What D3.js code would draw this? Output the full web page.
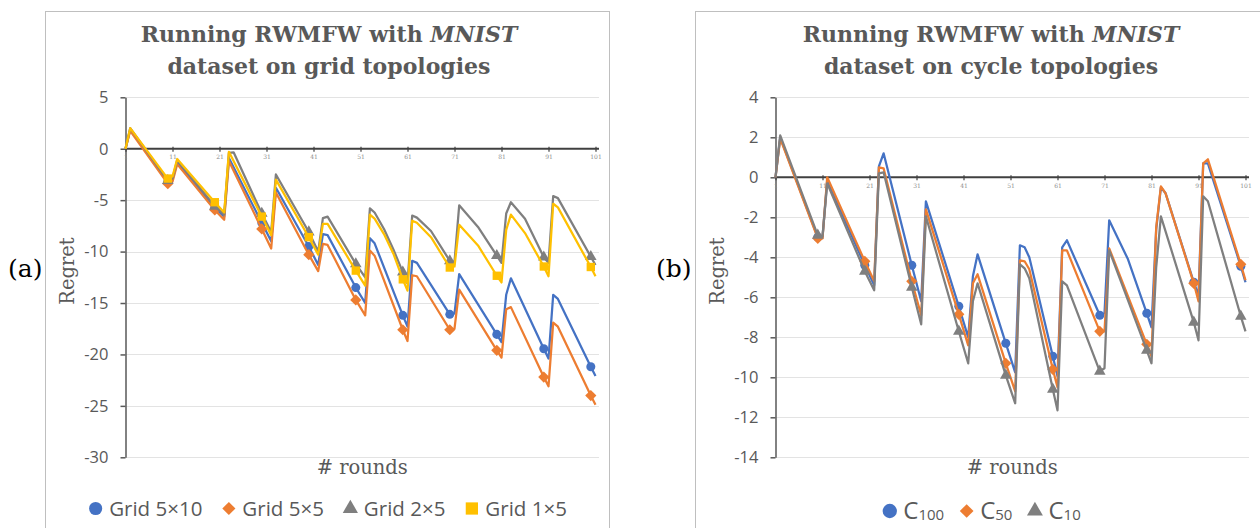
<!DOCTYPE html>
<html>
<head>
<meta charset="UTF-8">
<title>RWMFW regret</title>
<script src="https://d3js.org/d3.v7.min.js"></script>
<style>
  body { margin:0; background:#fff; }
  svg { display:block; }
  .tick-y { font-family:"Open Sans", sans-serif; font-size:16.5px; fill:#595959; }
  .tick-x { font-family:"DejaVu Serif", serif; font-size:6px; fill:#8c8c8c; }
  .title { font-family:"DejaVu Serif", serif; font-weight:bold; font-size:22px; fill:#595959; }
  .axis-title { font-family:"DejaVu Serif", serif; font-size:19.5px; fill:#595959; }
  .panel-tag { font-family:"DejaVu Serif", serif; font-size:25px; fill:#000; }
  .legend { font-family:"Open Sans", sans-serif; font-size:20.5px; fill:#595959; }
</style>
</head>
<body>
<svg width="1260" height="528"></svg>
<script>
// ---- data (round, regret) : vertices ----
const roundTicks = [1, 11, 21, 31, 41, 51, 61, 71, 81, 91, 101];

const gridTicksY = [5, 0, -5, -10, -15, -20, -25, -30];
const cycleTicksY = [4, 2, 0, -2, -4, -6, -8, -10, -12, -14];

const grid5x10 = [[1,0],[2,1.85],[10,-3.2],[11,-3.0],[12,-1.3],[20,-5.75],[22,-6.6],[23,-0.9],[30,-7.2],[32,-9.0],[33,-3.8],[40,-9.5],[42,-11.3],[43,-8.3],[44,-8.4],[50,-13.5],[52,-15.0],[53,-8.7],[54,-9.2],[60,-16.2],[61,-17.3],[62,-10.9],[63,-11.1],[70,-16.1],[71,-16.0],[72,-12.2],[80,-18.05],[81,-18.8],[82,-14.2],[83,-12.6],[90,-19.45],[91,-20.4],[92,-14.2],[93,-14.6],[100,-21.2],[101,-22.1]];
const grid5x5 = [[1,0],[2,1.75],[10,-3.4],[11,-3.2],[12,-1.5],[20,-5.95],[22,-6.9],[23,-1.2],[30,-7.8],[32,-9.7],[33,-4.25],[40,-10.3],[42,-11.9],[43,-9.25],[44,-9.35],[50,-14.7],[52,-16.2],[53,-9.9],[54,-10.4],[60,-17.6],[61,-18.7],[62,-12.3],[63,-12.4],[70,-17.6],[71,-17.5],[72,-13.7],[80,-19.6],[81,-20.3],[82,-15.6],[83,-15.4],[90,-22.2],[91,-23.1],[92,-16.9],[93,-17.3],[100,-24.0],[101,-24.9]];
const grid2x5 = [[1,0],[2,2.0],[10,-3.1],[11,-2.9],[12,-1.1],[20,-5.6],[22,-6.4],[23,-0.4],[24,-0.35],[30,-6.3],[32,-8.1],[33,-2.5],[40,-8.1],[42,-10.0],[43,-6.75],[44,-6.6],[50,-11.2],[52,-12.5],[53,-5.8],[54,-6.2],[56,-7.8],[58,-9.8],[60,-12.0],[61,-13.1],[62,-6.5],[63,-6.7],[66,-8.0],[70,-10.9],[71,-11.0],[72,-5.5],[76,-7.6],[80,-10.4],[81,-11.1],[82,-6.3],[83,-5.2],[86,-6.8],[90,-10.55],[91,-11.1],[92,-4.6],[93,-4.8],[100,-10.5],[101,-11.3]];
const grid1x5 = [[1,0],[2,2.0],[10,-2.9],[11,-2.7],[12,-1.0],[20,-5.2],[22,-6.2],[23,-0.3],[30,-6.6],[32,-8.4],[33,-3.0],[40,-8.6],[42,-10.3],[43,-7.3],[44,-7.3],[50,-11.85],[52,-13.3],[53,-6.4],[54,-6.8],[56,-8.3],[58,-10.2],[60,-12.7],[61,-13.8],[62,-7.0],[63,-7.2],[66,-8.6],[70,-11.55],[71,-11.45],[72,-7.4],[76,-9.4],[80,-12.35],[81,-13.0],[82,-7.9],[83,-6.4],[86,-8.2],[90,-11.45],[91,-12.4],[92,-5.35],[93,-5.7],[100,-11.5],[101,-12.4]];

const c100 = [[1,0],[2,2.0],[10,-3.0],[11,-3.0],[12,-0.15],[20,-4.4],[22,-5.4],[23,0.55],[24,1.2],[30,-4.4],[32,-6.2],[33,-1.2],[40,-6.45],[42,-8.0],[43,-4.95],[44,-3.85],[50,-8.3],[52,-9.75],[53,-3.4],[54,-3.5],[55,-4.0],[60,-8.95],[61,-9.95],[62,-3.5],[63,-3.15],[70,-6.9],[71,-6.8],[72,-2.15],[76,-4.1],[80,-6.8],[81,-7.5],[82,-2.6],[83,-0.5],[84,-0.8],[90,-5.25],[91,-5.9],[92,0.7],[93,0.7],[100,-4.45],[101,-5.25]];
const c50 = [[1,0],[2,1.95],[10,-3.05],[11,-3.05],[12,0.0],[20,-4.2],[22,-5.2],[23,0.5],[24,0.45],[30,-5.2],[32,-6.9],[33,-1.6],[40,-6.85],[42,-8.4],[43,-5.3],[44,-4.85],[50,-9.3],[52,-10.7],[53,-4.15],[54,-4.2],[55,-4.6],[60,-9.6],[61,-10.5],[62,-3.65],[63,-3.65],[70,-7.7],[71,-7.7],[72,-3.55],[80,-8.35],[81,-8.95],[82,-2.5],[83,-0.45],[84,-0.8],[90,-5.3],[91,-6.2],[92,0.7],[93,0.9],[100,-4.35],[101,-5.15]];
const c10 = [[1,0],[2,2.1],[10,-2.9],[11,-2.95],[12,-0.3],[20,-4.7],[22,-5.65],[23,0.2],[24,0.25],[30,-5.5],[32,-7.35],[33,-1.95],[40,-7.7],[42,-9.3],[43,-6.2],[44,-5.3],[50,-9.9],[52,-11.3],[53,-4.35],[54,-4.55],[55,-5.05],[60,-10.6],[61,-11.65],[62,-5.2],[63,-5.4],[70,-9.7],[71,-9.55],[72,-3.65],[80,-8.65],[81,-9.3],[82,-4.5],[83,-1.95],[90,-7.25],[91,-8.15],[92,-0.95],[93,-1.2],[100,-6.95],[101,-7.7]];

const gridNames = ['Grid 5×10', 'Grid 5×5', 'Grid 2×5', 'Grid 1×5'];
const cycleNames = [['C', '100'], ['C', '50'], ['C', '10']];

const colors = { blue:'#4472C4', orange:'#ED7D31', gray:'#7F7F7F', yellow:'#FFC000' };
const diamond = d3.symbolDiamond2 || d3.symbolDiamond;

const svg = d3.select('svg');

function drawPanel(p) {
  const g = svg.append('g');

  // frame of the chart area
  g.append('rect')
    .attr('x', p.box[0] + 0.5).attr('y', 11.5)
    .attr('width', p.box[1] - p.box[0]).attr('height', 600)
    .attr('fill', '#fff').attr('stroke', '#bfbfbf');

  const x = d3.scaleLinear().domain([1, 101]).range(p.xRange);
  const y = d3.scaleLinear().domain(d3.extent(p.yTicks)).range([457.3, 97.3]);
  const xEnd = p.xRange[1] + 3.5;

  // gridlines
  g.append('g').selectAll('line').data(p.yTicks.filter(d => d !== 0)).join('line')
    .attr('x1', x(1)).attr('x2', xEnd)
    .attr('y1', d => Math.round(y(d)) + 0.5).attr('y2', d => Math.round(y(d)) + 0.5)
    .attr('stroke', '#e3e3e3').attr('stroke-width', 1);

  // y axis
  const ya = g.append('g')
    .attr('transform', `translate(${x(1)},0)`)
    .call(d3.axisLeft(y).tickValues(p.yTicks).tickSize(5).tickSizeOuter(0).tickPadding(12).tickFormat(d => String(d)));
  ya.select('.domain').attr('stroke', '#595959').attr('stroke-width', 1.5);
  ya.selectAll('.tick line').attr('stroke', '#595959').attr('stroke-width', 1.5);
  ya.selectAll('.tick text').attr('class', 'tick-y').attr('font-family', null).attr('font-size', null);

  // horizontal axis through zero
  const xa = g.append('g')
    .attr('transform', `translate(0,${y(0)})`)
    .call(d3.axisBottom(x).tickValues(roundTicks).tickSize(3).tickSizeOuter(0).tickPadding(3));
  xa.select('.domain').remove();
  xa.append('line').attr('x1', x(1)).attr('x2', xEnd)
    .attr('stroke', '#404040').attr('stroke-width', 2);
  xa.selectAll('.tick line').attr('y1', -2).attr('stroke', '#404040').attr('stroke-width', 1.2);
  xa.selectAll('.tick text').attr('class', 'tick-x').attr('font-family', null).attr('font-size', null);

  // series
  const line = d3.line().x(d => x(d[0])).y(d => y(d[1]));
  p.series.forEach(s => {
    g.append('path').datum(s.values)
      .attr('d', line)
      .attr('fill', 'none').attr('stroke', s.color)
      .attr('stroke-width', 2.25).attr('stroke-linejoin', 'round');
    g.append('g').selectAll('path').data(s.values.filter(d => d[0] % 10 === 0)).join('path')
      .attr('transform', d => `translate(${x(d[0])},${y(d[1])})`)
      .attr('d', d3.symbol(s.symbol, s.size))
      .attr('fill', s.color);
  });

  // title
  const cx = (p.xRange[0] + xEnd) / 2;
  const t = g.append('text').attr('class', 'title').attr('text-anchor', 'middle');
  const l1 = t.append('tspan').attr('x', p.titleX).attr('y', 42);
  l1.append('tspan').text('Running RWMFW with ');
  l1.append('tspan').attr('font-style', 'italic').text('MNIST');
  t.append('tspan').attr('x', p.titleX).attr('y', 74).text(p.title2);

  // axis titles
  g.append('text').attr('class', 'axis-title').attr('text-anchor', 'middle')
    .attr('x', cx).attr('y', 474).text('# rounds');
  g.append('text').attr('class', 'axis-title').attr('text-anchor', 'middle')
    .attr('transform', `translate(${p.regretX},271) rotate(-90)`).text('Regret');

  // panel tag
  g.append('text').attr('class', 'panel-tag').attr('x', p.tagX).attr('y', 277).text(p.tag);

  // legend
  const lg = g.append('g');
  let lx = 0;
  p.series.forEach((s, i) => {
    lg.append('path').attr('transform', `translate(${lx + 6.5},${p.legendY - 7.5})`)
      .attr('d', d3.symbol(s.symbol, s.legendSize)).attr('fill', s.color);
    const txt = lg.append('text').attr('class', 'legend').attr('x', lx + 20).attr('y', p.legendY);
    if (Array.isArray(s.name)) {
      txt.append('tspan').attr('font-size', 24).text(s.name[0]);
      txt.append('tspan').attr('font-size', 15).attr('dy', 1).text(s.name[1]);
    } else {
      txt.text(s.name);
    }
    lx += 20 + txt.node().getComputedTextLength() + p.legendGap;
  });
  const w = lx - p.legendGap;
  lg.attr('transform', `translate(${p.legendCenter - w / 2},0)`);
}

drawPanel({
  box: [45, 609], xRange: [125.5, 595.5], yTicks: gridTicksY,
  titleX: 329, title2: 'dataset on grid topologies', regretX: 74, tag: '(a)', tagX: 8,
  legendY: 516, legendCenter: 328, legendGap: 20,
  series: [
    { name: gridNames[0], values: grid5x10, color: colors.blue, symbol: d3.symbolCircle, size: 64, legendSize: 135 },
    { name: gridNames[1], values: grid5x5, color: colors.orange, symbol: diamond, size: 80, legendSize: 110 },
    { name: gridNames[2], values: grid2x5, color: colors.gray, symbol: d3.symbolTriangle, size: 58, legendSize: 100 },
    { name: gridNames[3], values: grid1x5, color: colors.yellow, symbol: d3.symbolSquare, size: 70, legendSize: 150 }
  ]
});

drawPanel({
  box: [695, 1300], xRange: [775.5, 1245.5], yTicks: cycleTicksY,
  titleX: 991, title2: 'dataset on cycle topologies', regretX: 724, tag: '(b)', tagX: 656,
  legendY: 518.5, legendCenter: 982, legendGap: 16,
  series: [
    { name: cycleNames[0], values: c100, color: colors.blue, symbol: d3.symbolCircle, size: 64, legendSize: 160 },
    { name: cycleNames[1], values: c50, color: colors.orange, symbol: diamond, size: 80, legendSize: 120 },
    { name: cycleNames[2], values: c10, color: colors.gray, symbol: d3.symbolTriangle, size: 58, legendSize: 110 }
  ]
});
</script>
</body>
</html>
